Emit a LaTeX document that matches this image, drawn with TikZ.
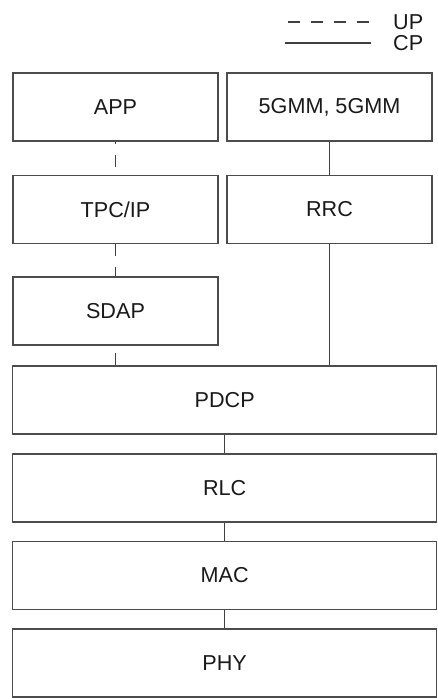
\documentclass[tikz,border=0pt]{standalone}
\usepackage{fontspec}
\setmainfont{Liberation Sans}
\usetikzlibrary{calc}

\tikzset{
	layer/.style = {draw = black!70, line width = 1.2pt, fill = white, minimum height = 68pt, inner sep = 0pt, font = \fontsize{21.6}{26}\selectfont, text = black!90},
	narrow/.style = {layer, minimum width = 205pt},
	wide/.style = {layer, minimum width = 424pt},
	cpline/.style = {draw = black!75, line width = 1.2pt},
	upline/.style = {cpline, dash pattern = on 12pt off 11pt},
	legendtext/.style = {anchor = west, inner sep = 0pt, font = \fontsize{21.6}{26}\selectfont, text = black!90}
}

\begin{document}
\begin{tikzpicture}[x = 1pt, y = -1pt]
		\useasboundingbox (0,0) rectangle (438,698);
		
		% legend
		\coordinate (upstart) at (288,22);
		\coordinate (upend) at (370,22);
		\coordinate (cpstart) at (285,43);
		\coordinate (cpend) at (371,43);
		\node [legendtext] (uptext) at (393,22) {UP};
		\node [legendtext] (cptext) at (393,43) {CP};
		\draw [upline] (upstart) -- (upend);
		\draw [cpline] (cpstart) -- (cpend);
		
		% upper layers
		\node [narrow] (app) at (115.5,107) {APP};
		\node [narrow] (gmm) at (329.5,107) {5GMM, 5GMM};
		\node [narrow] (tcp) at (115.5,209.5) {TPC/IP};
		\node [narrow] (rrc) at (329.5,209.5) {RRC};
		\node [narrow] (sdap) at (115.5,311) {SDAP};
		
		% lower layers
		\node [wide] (pdcp) at (224.7,400) {PDCP};
		\node [wide] (rlc) at (224.7,488) {RLC};
		\node [wide] (mac) at (224.7,575.5) {MAC};
		\node [wide] (phy) at (224.7,663) {PHY};
		
		% user plane
		\draw [upline, dash phase = 10pt] (app.south) -- (tcp.north);
		\draw [upline] (tcp.south) -- (sdap.north);
		\draw [upline, dash phase = 16pt] (sdap.south) -- (sdap.south |- pdcp.north);
		
		% control plane
		\draw [cpline] (gmm.south) -- (rrc.north);
		\draw [cpline] (rrc.south) -- (rrc.south |- pdcp.north);
		\draw [cpline] (pdcp.south) -- (rlc.north);
		\draw [cpline] (rlc.south) -- (mac.north);
		\draw [cpline] (mac.south) -- (phy.north);
	\end{tikzpicture}
\end{document}
